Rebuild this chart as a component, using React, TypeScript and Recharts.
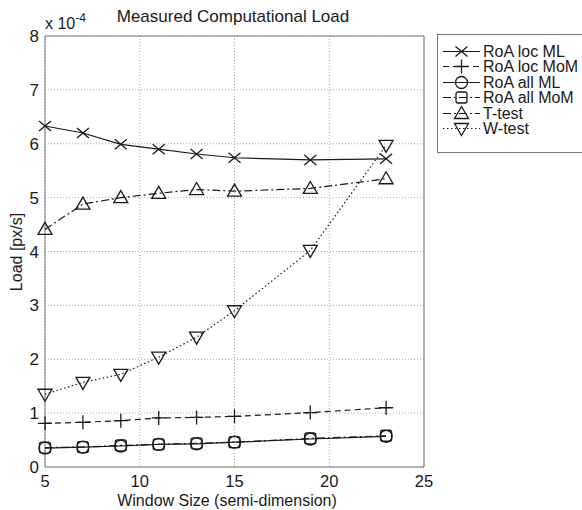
import { LineChart, Line, XAxis, YAxis, CartesianGrid, ReferenceArea } from 'recharts'

// values are in units of 1e-4 px/s
const windowSizes = [5, 7, 9, 11, 13, 15, 19, 23]
const roaLocML = [6.33, 6.2, 5.99, 5.9, 5.81, 5.74, 5.7, 5.72]
const roaLocMoM = [0.81, 0.83, 0.86, 0.91, 0.92, 0.94, 1.01, 1.1]
const roaAllML = [0.35, 0.37, 0.39, 0.42, 0.43, 0.46, 0.52, 0.57]
const roaAllMoM = [0.36, 0.37, 0.4, 0.42, 0.44, 0.46, 0.53, 0.58]
const tTest = [4.41, 4.88, 5.0, 5.08, 5.15, 5.12, 5.17, 5.35]
const wTest = [1.35, 1.57, 1.72, 2.04, 2.41, 2.9, 4.02, 5.97]
const xTicks = [5, 10, 15, 20, 25]
const yTicks = [0, 1, 2, 3, 4, 5, 6, 7, 8]

const INK = '#1a1a1a'
const FONT = 'Arial, "Liberation Sans", Helvetica, sans-serif'

type Shape = 'x' | 'plus' | 'circle' | 'square' | 'up' | 'down'

const series: { key: string; name: string; values: number[]; dash?: string; shape: Shape }[] = [
  { key: 'locML', name: 'RoA loc ML', values: roaLocML, shape: 'x' },
  { key: 'locMoM', name: 'RoA loc MoM', values: roaLocMoM, dash: '6 4', shape: 'plus' },
  { key: 'allML', name: 'RoA all ML', values: roaAllML, shape: 'circle' },
  { key: 'allMoM', name: 'RoA all MoM', values: roaAllMoM, dash: '8 3 2 3', shape: 'square' },
  { key: 'tTest', name: 'T-test', values: tTest, dash: '8 3 2 3', shape: 'up' },
  { key: 'wTest', name: 'W-test', values: wTest, dash: '1.5 2.5', shape: 'down' },
]

const data = windowSizes.map((w, i) => {
  const row: { [k: string]: number } = { w }
  series.forEach(s => { row[s.key] = s.values[i] })
  return row
})

function Marker({ shape, cx, cy }: { shape: Shape; cx: number; cy: number }) {
  const p = { fill: 'none', stroke: INK, strokeWidth: 1.3 }
  switch (shape) {
    case 'x':
      return <path d={`M${cx - 6},${cy - 5}L${cx + 6},${cy + 5}M${cx - 6},${cy + 5}L${cx + 6},${cy - 5}`} {...p} />
    case 'plus':
      return <path d={`M${cx - 7},${cy}L${cx + 7},${cy}M${cx},${cy - 7}L${cx},${cy + 7}`} {...p} />
    case 'circle':
      return <circle cx={cx} cy={cy} r={6} {...p} />
    case 'square':
      return <rect x={cx - 5.5} y={cy - 5.5} width={11} height={11} rx={2} {...p} />
    case 'up':
      return <path d={`M${cx},${cy - 7}L${cx + 7},${cy + 5}L${cx - 7},${cy + 5}Z`} {...p} />
    case 'down':
      return <path d={`M${cx},${cy + 7}L${cx + 7},${cy - 5}L${cx - 7},${cy - 5}Z`} {...p} />
  }
}

function LegendBox() {
  return (
    <div
      style={{
        position: 'absolute', left: 437, top: 34, width: 170, height: 119,
        border: '1px solid #777', background: '#fff', boxSizing: 'border-box',
      }}
    >
      {series.map((s, i) => (
        <div key={s.key} style={{ position: 'absolute', left: 0, top: 9 + i * 15.4, height: 15, display: 'flex', alignItems: 'center' }}>
          <svg width={45} height={15} style={{ overflow: 'visible' }}>
            <line x1={5} x2={42} y1={7.5} y2={7.5} stroke={INK} strokeWidth={1.2} strokeDasharray={s.dash} />
            <Marker shape={s.shape} cx={23.5} cy={7.5} />
          </svg>
          <span style={{ fontFamily: FONT, fontSize: 16, lineHeight: '15px', color: INK, whiteSpace: 'nowrap' }}>{s.name}</span>
        </div>
      ))}
    </div>
  )
}

export default function App() {
  return (
    <div style={{ position: 'absolute', left: 0, top: 0, width: 582, height: 510, overflow: 'hidden', background: '#fff' }}>
      <LineChart width={582} height={510} data={data} margin={{ top: 36, right: 158, left: 0, bottom: 0 }}>
        <CartesianGrid stroke="#aaa" strokeDasharray="1 2" />
        <XAxis
          dataKey="w"
          type="number"
          domain={[5, 25]}
          ticks={xTicks}
          height={43}
          tickSize={0}
          tickMargin={8}
          axisLine={false}
          tick={{ fill: INK, fontSize: 16.5, fontFamily: FONT }}
        />
        <YAxis
          type="number"
          domain={[0, 8]}
          ticks={yTicks}
          width={45}
          tickSize={0}
          tickMargin={6}
          axisLine={false}
          tick={{ fill: INK, fontSize: 17, fontFamily: FONT }}
        />
        <ReferenceArea x1={5} x2={25} y1={0} y2={8} fill="none" stroke="#777" strokeWidth={1} ifOverflow="visible" />
        {series.map(s => (
          <Line
            key={s.key}
            dataKey={s.key}
            name={s.name}
            stroke={INK}
            strokeWidth={1.2}
            strokeDasharray={s.dash}
            isAnimationActive={false}
            dot={(props: any) => <Marker key={`${s.key}-${props.index}`} shape={s.shape} cx={props.cx} cy={props.cy} />}
            activeDot={false}
          />
        ))}
      </LineChart>
      <div style={{ position: 'absolute', left: 33, width: 400, top: 7, lineHeight: 'normal', textAlign: 'center', fontFamily: FONT, fontSize: 17, color: INK }}>
        Measured Computational Load
      </div>
      <div style={{ position: 'absolute', left: 45, top: 15, lineHeight: 'normal', fontFamily: FONT, fontSize: 16, color: INK, whiteSpace: 'nowrap' }}>
        x 10<sup style={{ fontSize: 12, verticalAlign: 7, lineHeight: 0 }}>-4</sup>
      </div>
      <div
        style={{
          position: 'absolute', left: 17, top: 252, transform: 'translate(-50%, -50%) rotate(-90deg)',
          fontFamily: FONT, fontSize: 16, color: INK, whiteSpace: 'nowrap',
        }}
      >
        Load [px/s]
      </div>
      <div style={{ position: 'absolute', left: 27, width: 400, top: 493, lineHeight: '15px', textAlign: 'center', fontFamily: FONT, fontSize: 16, color: INK }}>
        Window Size (semi-dimension)
      </div>
      <LegendBox />
    </div>
  )
}
